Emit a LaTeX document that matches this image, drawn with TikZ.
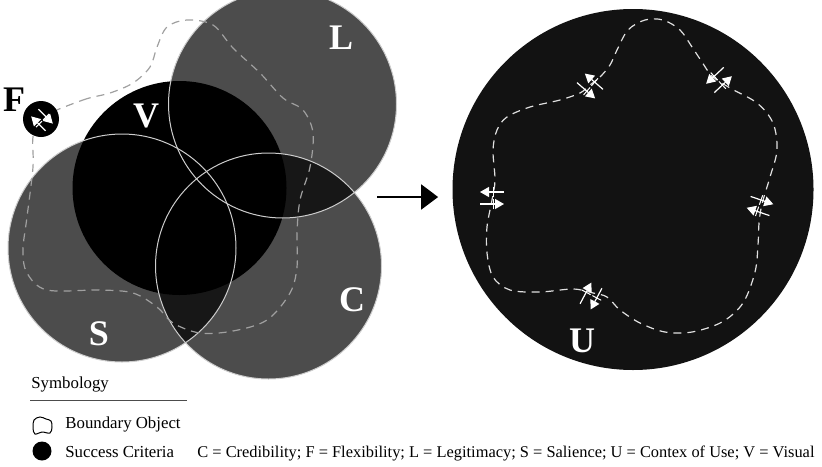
\documentclass[tikz,border=0pt]{standalone}
\usepackage{fontspec}
\setmainfont{Liberation Serif}
\usetikzlibrary{arrows.meta,positioning}

\definecolor{critfill}{RGB}{18,18,18}
\definecolor{edgegray}{RGB}{205,205,205}
\definecolor{bdgray}{RGB}{160,160,160}

\tikzset{
  flexpair/.pic={
    \draw[flexarrow] (-12,6) -- (12,6);
    \draw[flexarrow] (12,-6) -- (-12,-6);
    \draw[flextick] (-1,1) -- (-1,11);
    \draw[flextick] (-1,-11) -- (-1,-1);
  }
}

\begin{document}
\begin{tikzpicture}[
  x=0.5pt, y=-0.5pt,
  criterion/.style={fill=black, fill opacity=0.7},
  critedge/.style={draw=edgegray, line width=0.5pt},
  boundary/.style={draw=bdgray, line width=0.6pt, dash pattern=on 4pt off 3pt},
  ctxboundary/.style={draw=white!88!black, line width=0.6pt, dash pattern=on 4pt off 3pt},
  letter/.style={font=\fontsize{18}{18}\selectfont\bfseries, inner sep=0pt},
  legend/.style={font=\fontsize{8.4}{10}\selectfont, anchor=west, inner sep=0pt},
  flexarrow/.style={white, line width=0.6pt, -{Triangle[length=4.5pt,width=5pt]}},
  flextick/.style={white, line width=0.5pt},
  flowarrow/.style={line width=1pt, -{Triangle[length=8.5pt,width=12.5pt]}}
]
\useasboundingbox (0,0) rectangle (822,466);

% success criteria
\fill[black] (179.5,188) circle[radius=107];
\path[criterion] (282.5,104) circle[radius=114];
\path[criterion] (122,248) circle[radius=114];
\path[criterion] (268.5,266) circle[radius=113];
\draw[critedge] (282.5,104) circle[radius=114];
\draw[critedge] (122,248) circle[radius=114];
\draw[critedge] (268.5,266) circle[radius=113];

% boundary object
\draw[boundary] plot[smooth cycle, tension=0.55] coordinates {(41,118) (83,100) (110,93)
  (133,83) (150,67) (157,47) (167,27) (187,20) (213,25) (233,48) (260,73) (283,98)
  (303,110) (313,133) (310,167) (300,200) (297,233) (297,267) (290,293) (267,320)
  (233,331) (200,333) (173,323) (157,307) (133,293) (100,290) (47,290) (27,273)
  (23,250) (27,217) (33,167) (33,137)};

% flexibility
\fill[black] (41,119) circle[radius=18];
\pic[rotate=135, yscale=-1, scale=0.85] at (42,120) {flexpair};

\node[letter] (lblF) at (14,100) {F};
\node[letter, white] (lblV) at (146,116) {V};
\node[letter, white] (lblL) at (341,38) {L};
\node[letter, white] (lblC) at (352,300) {C};
\node[letter, white] (lblS) at (99,334) {S};

% context of use
\node[circle, fill=critfill, inner sep=0pt, minimum size=180.5pt] (ctx) at (633,189.5) {};
\draw[ctxboundary] plot[smooth cycle, tension=0.55] coordinates {(590,85) (600,77)
  (610,65) (617,50) (628,30) (645,20) (663,20) (680,30) (692,47) (702,62) (712,76)
  (730,88) (757,103) (773,123) (777,150) (770,177) (762,204) (759,223) (758,245)
  (755,272) (743,303) (722,322) (692,332) (665,332) (640,323) (620,310) (607,297)
  (593,293) (573,289) (540,292) (510,290) (493,277) (487,253) (487,227) (492,200)
  (495,180) (493,150) (497,130) (507,117) (530,107) (560,100) (580,93)};
\pic[rotate=180] at (492,198) {flexpair};
\pic[rotate=139] at (590,86) {flexpair};
\pic[rotate=43] at (719,80) {flexpair};
\pic[rotate=-19, yscale=-1] at (760,206) {flexpair};
\pic[rotate=-118, yscale=-1] at (591,296) {flexpair};
\node[letter, white] (lblU) at (582,341) {U};

\coordinate (arrowfrom) at (377,197);
\draw[flowarrow, shorten >=7pt] (arrowfrom) -- (ctx.west |- arrowfrom);

% symbology
\node[legend] (symb) at (31,384) {Symbology};
\draw[black!70, line width=0.4pt] (30,400) -- (187,400);
\draw[black, line width=0.5pt] plot[smooth cycle, tension=0.6] coordinates {(34,420)
  (40,417) (46,419) (51,421) (52,427) (50,433) (42,432) (35,434) (33,428)};
\node[legend] (bdobj) at (65,424) {Boundary Object};
\fill[black] (42,451) circle[radius=9.5];
\node[legend] (succ) at (65,452) {Success Criteria};
\node[legend, font=\fontsize{8.2}{10}\selectfont] (keys) at (197,453) {C = Credibility; F = Flexibility; L = Legitimacy; S = Salience; U = Contex of Use; V = Visual};
\end{tikzpicture}
\end{document}
